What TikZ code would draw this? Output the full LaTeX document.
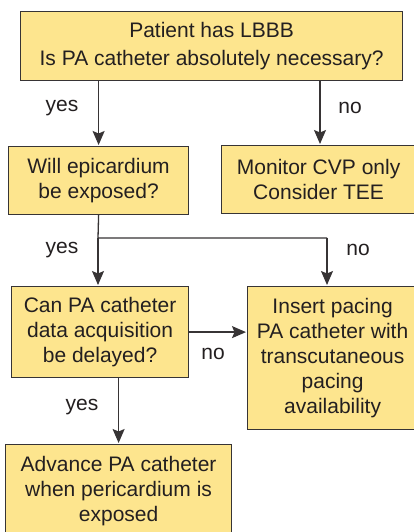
\documentclass[tikz,border=0pt]{standalone}
\usepackage{fontspec}
\setmainfont{Liberation Sans}
\usetikzlibrary{arrows.meta}
\definecolor{boxfill}{RGB}{253,229,142}
\definecolor{boxdraw}{RGB}{55,52,53}
\definecolor{txt}{RGB}{35,31,32}
\begin{document}
\begin{tikzpicture}[x=1pt,y=-1pt,
  box/.style={draw=boxdraw,fill=boxfill,line width=1.2pt,inner sep=0pt,align=center,anchor=north west,text=txt,
    font=\fontsize{21}{25}\selectfont},
  lbl/.style={text=txt,font=\fontsize{21}{25}\selectfont},
  conn/.style={draw=boxdraw,line width=1.3pt,-{Stealth[length=14pt,width=12pt,inset=2.5pt]},shorten >=1pt},
  line/.style={draw=boxdraw,line width=1.3pt}]
\useasboundingbox (0,0) rectangle (414,532);
\clip (0,0) rectangle (414,532);
\fill[white] (0,0) rectangle (414,532);
\node[box,minimum width=382pt,minimum height=69pt,font=\fontsize{21}{28}\selectfont] (b1) at (20,11) {Patient has LBBB\\Is PA catheter absolutely necessary?};
\node[box,minimum width=180pt,minimum height=68pt] (b2) at (8,146) {Will epicardium\\be exposed?};
\node[box,minimum width=194pt,minimum height=68pt] (b3) at (221,145) {Monitor CVP only\\Consider TEE};
\node[box,minimum width=177pt,minimum height=91pt] (b4) at (11,286) {Can PA catheter\\data acquisition\\be delayed?};
\node[box,minimum width=170pt,minimum height=143pt] (b5) at (247,286) {Insert pacing\\PA catheter with\\transcutaneous\\pacing\\availability};
\node[box,minimum width=226pt,minimum height=92pt] (b6) at (5,444) {Advance PA catheter\\when pericardium is\\exposed};
\draw[conn] (b1.south -| b2.north) -- (b2.north);
\draw[conn] (b1.south -| 320,0) -- (320,0 |- b3.north);
\coordinate (j) at (98,238);
\coordinate (jr) at (327,238);
\draw[line] (b2.south) -- (j) -- (jr);
\draw[conn] (j) -- (j |- b4.north);
\draw[conn] (jr) -- (jr |- b5.north);
\draw[conn] (b4.east) -- (b4.east -| b5.west);
\draw[conn] (b4.south -| b6.north) -- (b6.north);
\node[lbl] (l1) at (62,108) {yes};
\node[lbl] (l2) at (350,108) {no};
\node[lbl] (l3) at (62,250) {yes};
\node[lbl] (l4) at (358,250) {no};
\node[lbl] (l5) at (213,354) {no};
\node[lbl] (l6) at (82,407) {yes};
\end{tikzpicture}
\end{document}
